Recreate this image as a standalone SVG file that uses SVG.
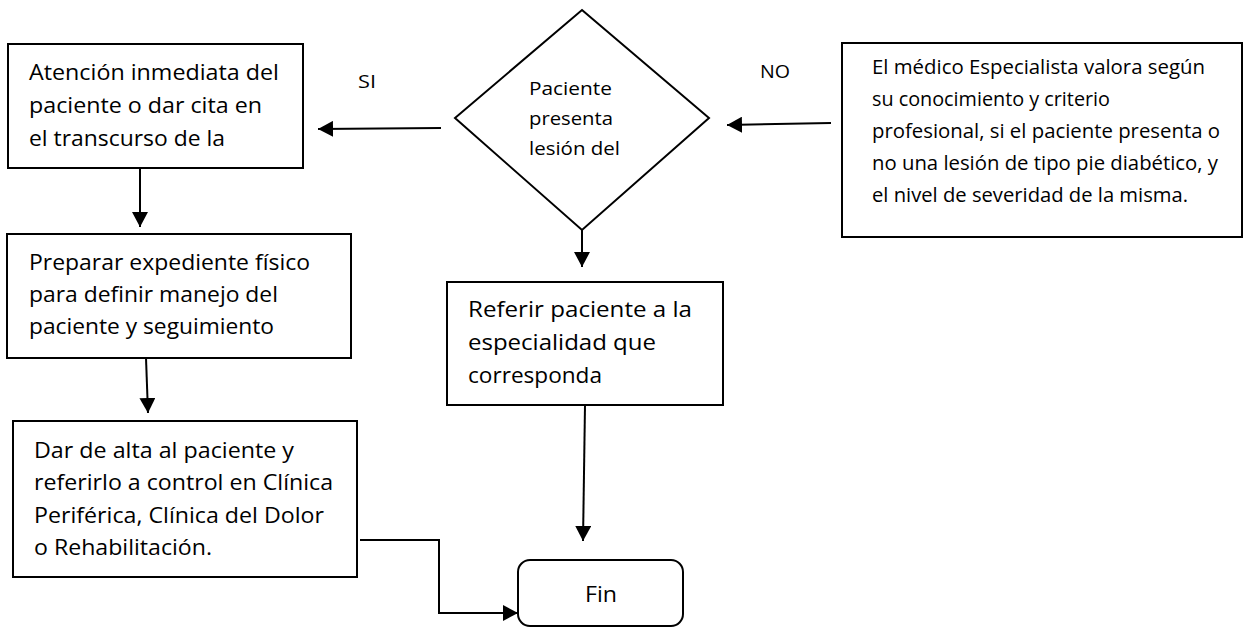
<svg xmlns="http://www.w3.org/2000/svg" width="1244" height="628" viewBox="0 0 1244 628">
  <style>
    .box { fill: #ffffff; stroke: #000000; stroke-width: 2; }
    .txt { font-family: "Open Sans", "Liberation Sans", sans-serif; fill: #000000; }
    .big { font-size: 22px; }
    .mid { font-size: 19.5px; }
    .sm  { font-size: 19px; }
    .lbl { font-size: 19px; }
    .edge { fill: none; stroke: #000000; stroke-width: 2; }
  </style>
  <defs>
    <marker id="arrow" markerUnits="userSpaceOnUse" markerWidth="16" markerHeight="16" refX="15" refY="8" orient="auto">
      <path d="M0,0 L15,8 L0,16 z" fill="#000000"/>
    </marker>
  </defs>

  <rect width="1244" height="628" fill="#ffffff"/>

  <!-- Connectors -->
  <g id="connectors">
    <line class="edge" x1="441" y1="128" x2="318" y2="129" marker-end="url(#arrow)"/>
    <line class="edge" x1="831" y1="123" x2="727" y2="125" marker-end="url(#arrow)"/>
    <line class="edge" x1="140" y1="168" x2="140" y2="227" marker-end="url(#arrow)"/>
    <line class="edge" x1="146" y1="358" x2="148" y2="413" marker-end="url(#arrow)"/>
    <line class="edge" x1="582" y1="230" x2="582" y2="267" marker-end="url(#arrow)"/>
    <line class="edge" x1="585" y1="405" x2="583" y2="541" marker-end="url(#arrow)"/>
    <polyline class="edge" points="360,540 439,540 439,613 518,613" marker-end="url(#arrow)"/>
    <text class="txt lbl" x="358" y="88" textLength="18" lengthAdjust="spacingAndGlyphs">SI</text>
    <text class="txt lbl" x="760" y="78" textLength="30" lengthAdjust="spacingAndGlyphs">NO</text>
  </g>

  <!-- Immediate attention -->
  <g id="node-atencion">
    <rect class="box" x="8" y="44" width="295" height="124"/>
    <text class="txt big" x="29" y="80" textLength="250" lengthAdjust="spacingAndGlyphs">Atención inmediata del</text>
    <text class="txt big" x="29" y="113" textLength="233" lengthAdjust="spacingAndGlyphs">paciente o dar cita en</text>
    <text class="txt big" x="29" y="146" textLength="196" lengthAdjust="spacingAndGlyphs">el transcurso de la</text>
  </g>

  <!-- Decision -->
  <g id="node-decision">
    <polygon class="box" points="582,10 709,118 582,230 455,118"/>
    <text class="txt sm" x="529" y="95" textLength="83" lengthAdjust="spacingAndGlyphs">Paciente</text>
    <text class="txt sm" x="529" y="125" textLength="84" lengthAdjust="spacingAndGlyphs">presenta</text>
    <text class="txt sm" x="529" y="155" textLength="91" lengthAdjust="spacingAndGlyphs">lesión del</text>
  </g>

  <!-- Specialist evaluation -->
  <g id="node-especialista">
    <rect class="box" x="842" y="43" width="400" height="194"/>
    <text class="txt mid" x="872" y="74" textLength="333" lengthAdjust="spacingAndGlyphs">El médico Especialista valora según</text>
    <text class="txt mid" x="872" y="106" textLength="238" lengthAdjust="spacingAndGlyphs">su conocimiento y criterio</text>
    <text class="txt mid" x="872" y="138" textLength="348" lengthAdjust="spacingAndGlyphs">profesional, si el paciente presenta o</text>
    <text class="txt mid" x="872" y="170" textLength="346" lengthAdjust="spacingAndGlyphs">no una lesión de tipo pie diabético, y</text>
    <text class="txt mid" x="872" y="202" textLength="316" lengthAdjust="spacingAndGlyphs">el nivel de severidad de la misma.</text>
  </g>

  <!-- Prepare file -->
  <g id="node-expediente">
    <rect class="box" x="7" y="234" width="344" height="124"/>
    <text class="txt big" x="29" y="270" textLength="281" lengthAdjust="spacingAndGlyphs">Preparar expediente físico</text>
    <text class="txt big" x="29" y="302" textLength="249" lengthAdjust="spacingAndGlyphs">para definir manejo del</text>
    <text class="txt big" x="29" y="334" textLength="245" lengthAdjust="spacingAndGlyphs">paciente y seguimiento</text>
  </g>

  <!-- Refer to specialty -->
  <g id="node-referir">
    <rect class="box" x="447" y="282" width="276" height="123"/>
    <text class="txt big" x="468" y="317" textLength="224" lengthAdjust="spacingAndGlyphs">Referir paciente a la</text>
    <text class="txt big" x="468" y="350" textLength="188" lengthAdjust="spacingAndGlyphs">especialidad que</text>
    <text class="txt big" x="468" y="383" textLength="134" lengthAdjust="spacingAndGlyphs">corresponda</text>
  </g>

  <!-- Discharge -->
  <g id="node-alta">
    <rect class="box" x="13" y="421" width="344" height="156"/>
    <text class="txt big" x="34" y="458" textLength="260" lengthAdjust="spacingAndGlyphs">Dar de alta al paciente y</text>
    <text class="txt big" x="34" y="490" textLength="299" lengthAdjust="spacingAndGlyphs">referirlo a control en Clínica</text>
    <text class="txt big" x="34" y="523" textLength="290" lengthAdjust="spacingAndGlyphs">Periférica, Clínica del Dolor</text>
    <text class="txt big" x="34" y="555" textLength="178" lengthAdjust="spacingAndGlyphs">o Rehabilitación.</text>
  </g>

  <!-- End -->
  <g id="node-fin">
    <rect class="box" x="518" y="560" width="165" height="66" rx="12" ry="12"/>
    <text class="txt big" x="585" y="602" textLength="32" lengthAdjust="spacingAndGlyphs">Fin</text>
  </g>
</svg>
